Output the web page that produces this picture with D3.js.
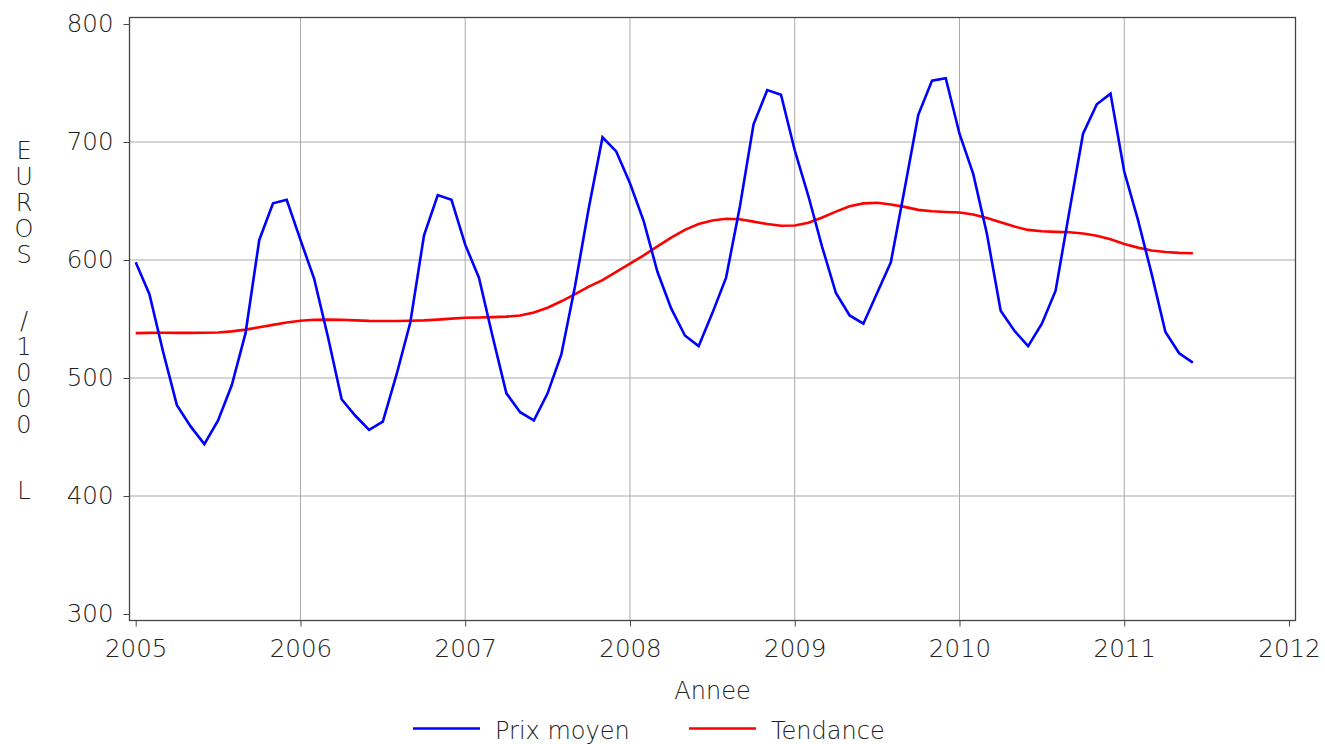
<!DOCTYPE html>
<html>
<head>
<meta charset="utf-8">
<script src="https://cdn.jsdelivr.net/npm/d3@7"></script>
<style>
  body { margin: 0; background: #fff; }
  text { font-family: "DejaVu Sans", sans-serif; font-weight: 200; fill: #222; }
</style>
</head>
<body>
<script>
// monthly values, Jan 2005 .. Jun 2011
var startYear = 2005
var prixMoyen = [
  598, 571, 522, 477, 459, 444, 464, 494, 538, 617, 648, 651,
  617, 584, 535, 482, 468, 456, 463, 503, 547, 621, 655, 651,
  613, 585, 535, 487, 471, 464, 487, 520, 578, 644, 704, 692,
  665, 633, 590, 559, 536, 527, 555, 585, 645, 715, 744, 740,
  693, 654, 611, 572, 553, 546, 572, 598, 660, 723, 752, 754,
  707, 673, 622, 557, 540, 527, 546, 574, 641, 707, 732, 741,
  675, 634, 588, 539, 521, 513
]
var tendance = [
  538, 538.2, 538.3, 538.2, 538.2, 538.3, 538.5, 539.5, 541, 543, 545, 547,
  548.5, 549.3, 549.5, 549.3, 548.8, 548.4, 548.3, 548.3, 548.5, 548.8, 549.5, 550.3,
  551, 551.3, 551.6, 552, 553, 555.5, 559.5, 565, 571, 577.5, 583, 590,
  597, 604, 611.5, 619, 625.5, 630.5, 633.5, 635, 634.5, 632.5, 630.5, 629,
  629.3, 631.5, 636, 641, 645.5, 648, 648.5, 647, 645, 642.5, 641.3, 640.7,
  640.2, 638.5, 635.5, 632, 628.3, 625.5, 624.3, 623.8, 623.5, 622.5, 620.5, 617.5,
  613.5, 610.5, 608, 606.8, 606, 605.7
]
var xTicks = [2005, 2006, 2007, 2008, 2009, 2010, 2011, 2012]
var yTicks = [300, 400, 500, 600, 700, 800]
var seriesNames = ["Prix moyen", "Tendance"]
var seriesColors = ["#0000ff", "#ff0000"]
var xTitle = "Annee"
var yTitle = "EUROS /1000 L"

var width = 1325, height = 744
var frame = {left: 129.5, right: 1295.5, top: 17.5, bottom: 620.5}

var svg = d3.select("body").append("svg")
  .attr("width", width)
  .attr("height", height)

var x = d3.scaleLinear().domain([2005, 2012]).range([135.7, 1289])
var y = d3.scaleLinear().domain([300, 800]).range([614, 24])

// grid
svg.append("g").selectAll("line")
  .data(xTicks.slice(1, -1))
  .enter().append("line")
  .attr("x1", function(d) { return x(d) }).attr("x2", function(d) { return x(d) })
  .attr("y1", frame.top).attr("y2", frame.bottom)
  .attr("stroke", "#aaa").attr("stroke-width", 1)

svg.append("g").selectAll("line")
  .data(yTicks.slice(1, -1))
  .enter().append("line")
  .attr("x1", frame.left).attr("x2", frame.right)
  .attr("y1", function(d) { return y(d) }).attr("y2", function(d) { return y(d) })
  .attr("stroke", "#aaa").attr("stroke-width", 1)

// lines
var line = d3.line()
  .x(function(d, i) { return x(startYear + i / 12) })
  .y(function(d) { return y(d) })

svg.append("path").datum(tendance)
  .attr("d", line).attr("fill", "none")
  .attr("stroke", seriesColors[1]).attr("stroke-width", 2.6)

svg.append("path").datum(prixMoyen)
  .attr("d", line).attr("fill", "none")
  .attr("stroke", seriesColors[0]).attr("stroke-width", 2.6)

// frame
svg.append("rect")
  .attr("x", frame.left).attr("y", frame.top)
  .attr("width", frame.right - frame.left).attr("height", frame.bottom - frame.top)
  .attr("fill", "none").attr("stroke", "#444").attr("stroke-width", 1.3)

// axes
var yAxis = svg.append("g")
  .attr("transform", "translate(" + frame.left + ",0)")
  .call(d3.axisLeft(y).tickValues(yTicks).tickSize(6).tickPadding(10))
yAxis.select(".domain").remove()
yAxis.selectAll(".tick line").attr("stroke", "#444")
yAxis.selectAll("text").style("font-size", "24.5px").attr("fill", "#222")

var xAxis = svg.append("g")
  .attr("transform", "translate(0," + frame.bottom + ")")
  .call(d3.axisBottom(x).tickValues(xTicks).tickFormat(d3.format("d")).tickSize(6).tickPadding(13))
xAxis.select(".domain").remove()
xAxis.selectAll(".tick line").attr("stroke", "#444")
xAxis.selectAll("text").style("font-size", "24.5px").attr("fill", "#222")

// titles
svg.append("text")
  .attr("x", 712.5).attr("y", 699)
  .attr("text-anchor", "middle")
  .style("font-size", "24px")
  .text(xTitle)

// vertical title, one character per line
var yt = svg.append("text")
  .attr("text-anchor", "middle")
  .style("font-size", "24px")
var offset = 150
yTitle.split("").forEach(function(c) {
  if (c === " ") { offset += 40; return }
  yt.append("tspan")
    .attr("x", 24).attr("y", offset + 9)
    .text(c)
  offset += 26
})

// legend
var legendPos = [413, 689]
seriesNames.forEach(function(name, i) {
  var g = svg.append("g").attr("transform", "translate(" + legendPos[i] + ",728.5)")
  g.append("line").attr("x1", 0).attr("x2", 67)
    .attr("stroke", seriesColors[i]).attr("stroke-width", 2.6)
  g.append("text").attr("x", 82).attr("y", 10)
    .style("font-size", "24px")
    .text(name)
})
</script>
</body>
</html>
